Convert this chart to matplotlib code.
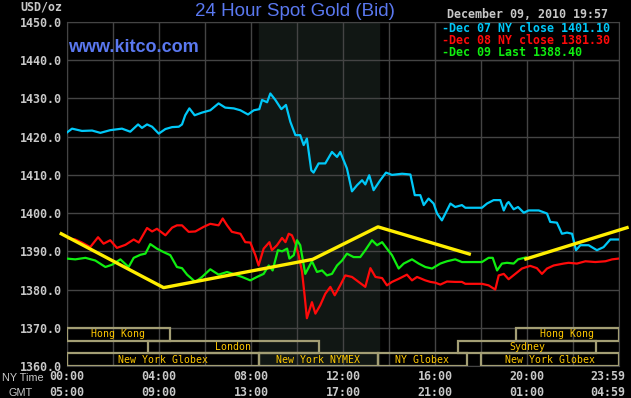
import matplotlib
matplotlib.use('Agg')
import matplotlib.pyplot as plt
from matplotlib.patches import Rectangle

# NY time in hours, price in USD/oz
dec07_h = [0.00, 0.22, 0.65, 1.09, 1.45, 1.88, 2.39, 2.75, 3.09, 3.26, 3.48, 3.70, 3.99, 4.28, 4.57,
           4.86, 5.00, 5.14, 5.32, 5.55, 5.87, 6.23, 6.59, 6.88, 7.25, 7.54, 7.87, 8.12, 8.36, 8.48,
           8.70, 8.84, 9.06, 9.32, 9.52, 9.71, 9.93, 10.14, 10.29, 10.43, 10.62, 10.72, 10.94, 11.23,
           11.52, 11.74, 11.88, 12.17, 12.39, 12.61, 12.83, 12.97, 13.14, 13.33, 13.62, 13.87, 14.13,
           14.57, 14.93, 15.12, 15.36, 15.51, 15.72, 15.94, 16.09, 16.30, 16.52, 16.67, 16.88, 17.17,
           17.32, 18.04, 18.26, 18.55, 18.84, 18.99, 19.13, 19.20, 19.42, 19.61, 19.86, 20.07, 20.51,
           20.87, 21.01, 21.30, 21.52, 21.74, 21.96, 22.13, 22.32, 22.68, 23.04, 23.33, 23.62, 23.98]
dec07_v = [1421.1, 1422.1, 1421.5, 1421.6, 1421.0, 1421.7, 1422.1, 1421.3, 1423.2, 1422.3, 1423.2, 1422.6,
           1420.8, 1422.0, 1422.5, 1422.6, 1423.2, 1425.6, 1427.4, 1425.6, 1426.3, 1426.9, 1428.7, 1427.6,
           1427.4, 1426.9, 1425.8, 1426.9, 1427.2, 1429.6, 1429.0, 1431.3, 1429.6, 1427.2, 1428.3, 1423.9,
           1420.4, 1420.4, 1417.8, 1419.5, 1411.2, 1410.6, 1413.0, 1413.0, 1416.0, 1414.7, 1416.0, 1411.7,
           1405.7, 1407.3, 1408.6, 1407.5, 1409.9, 1406.0, 1408.6, 1410.6, 1410.0, 1410.3, 1410.1, 1404.7,
           1404.7, 1402.1, 1403.8, 1402.5, 1399.9, 1398.1, 1400.7, 1402.5, 1401.6, 1402.1, 1401.4, 1401.4,
           1402.5, 1403.4, 1403.4, 1400.7, 1402.5, 1402.9, 1401.0, 1401.6, 1400.1, 1400.7, 1400.7, 1399.9,
           1397.7, 1397.5, 1394.6, 1394.9, 1394.6, 1390.3, 1391.6, 1391.6, 1390.3, 1391.1, 1393.1, 1393.1]

dec08_h = [0.00, 0.36, 0.65, 1.01, 1.35, 1.59, 1.88, 2.17, 2.54, 2.90, 3.12, 3.48, 3.70, 3.91, 4.28, 4.57,
           4.78, 5.00, 5.29, 5.58, 5.94, 6.23, 6.59, 6.77, 6.96, 7.17, 7.54, 7.75, 7.97, 8.19, 8.33, 8.55,
           8.80, 8.91, 9.13, 9.35, 9.50, 9.64, 9.78, 9.93, 10.07, 10.22, 10.33, 10.43, 10.65, 10.80, 11.01,
           11.23, 11.45, 11.64, 11.88, 12.10, 12.39, 12.68, 12.97, 13.19, 13.41, 13.70, 13.91, 14.13, 14.42,
           14.78, 15.00, 15.22, 15.58, 15.80, 16.01, 16.23, 16.52, 16.88, 17.17, 17.32, 18.04, 18.33, 18.62,
           18.77, 18.99, 19.20, 19.49, 19.78, 20.14, 20.43, 20.65, 20.87, 21.16, 21.59, 21.81, 22.17, 22.54,
           22.97, 23.41, 23.70, 23.98]
dec08_v = [1393.5, 1393.1, 1392.3, 1391.1, 1393.7, 1392.0, 1392.9, 1390.9, 1391.7, 1393.1, 1392.3, 1396.1,
           1395.2, 1395.9, 1394.2, 1396.2, 1396.8, 1396.8, 1395.1, 1395.2, 1396.4, 1397.2, 1396.8, 1398.6,
           1396.8, 1395.1, 1394.6, 1392.4, 1392.3, 1389.0, 1386.3, 1390.7, 1392.4, 1390.3, 1391.6, 1393.5,
           1392.4, 1394.6, 1394.2, 1392.0, 1389.0, 1384.6, 1378.5, 1372.5, 1376.7, 1373.7, 1375.9, 1378.9,
           1380.7, 1378.5, 1381.1, 1383.7, 1383.3, 1382.0, 1380.7, 1385.6, 1383.3, 1383.0, 1381.1, 1382.0,
           1382.8, 1383.9, 1382.4, 1383.3, 1382.4, 1382.0, 1381.8, 1381.3, 1382.1, 1382.0, 1382.0, 1381.5,
           1381.5, 1381.1, 1380.0, 1383.7, 1384.1, 1382.7, 1384.1, 1385.5, 1386.2, 1385.6, 1384.1, 1385.5,
           1386.3, 1386.8, 1387.0, 1386.8, 1387.4, 1387.2, 1387.4, 1387.9, 1388.1]

dec09_h = [0.00, 0.36, 0.80, 1.23, 1.67, 1.96, 2.32, 2.68, 2.90, 3.19, 3.41, 3.62, 3.91, 4.20, 4.49, 4.78,
           5.00, 5.22, 5.58, 5.87, 6.23, 6.59, 6.96, 7.32, 7.61, 7.97, 8.26, 8.55, 8.77, 8.94, 9.17, 9.35,
           9.57, 9.67, 9.86, 10.00, 10.14, 10.36, 10.65, 10.87, 11.09, 11.30, 11.52, 11.74, 11.96, 12.17,
           12.46, 12.75, 12.97, 13.26, 13.48, 13.70, 13.91, 14.13, 14.42, 14.64, 15.00, 15.29, 15.58,
           15.87, 16.23, 16.52, 16.88, 17.17, 18.04, 18.33, 18.51, 18.70, 18.91, 19.13, 19.42, 19.61, 19.95]
dec09_v = [1388.1, 1387.9, 1388.3, 1387.6, 1385.9, 1386.5, 1387.9, 1385.9, 1388.3, 1389.1, 1389.4, 1391.9,
           1390.7, 1389.8, 1389.0, 1385.9, 1385.6, 1383.9, 1382.0, 1383.3, 1385.3, 1383.9, 1384.6, 1383.9,
           1383.3, 1382.4, 1383.3, 1384.1, 1386.3, 1385.0, 1390.3, 1390.0, 1390.7, 1388.1, 1389.0, 1392.9,
           1391.6, 1384.1, 1387.4, 1384.6, 1385.0, 1383.7, 1384.1, 1386.3, 1387.6, 1389.4, 1388.5, 1388.5,
           1390.3, 1392.9, 1391.6, 1392.4, 1390.7, 1389.0, 1385.5, 1386.8, 1387.9, 1386.8, 1385.9, 1385.5,
           1386.8, 1387.4, 1387.9, 1387.2, 1387.2, 1388.3, 1388.3, 1385.0, 1386.8, 1387.0, 1386.8, 1387.9,
           1388.4]

# yellow trend lines
trend1_h = [-0.25, 4.2, 10.68, 13.52, 17.49]
trend1_v = [1394.6, 1380.5, 1387.9, 1396.4, 1389.3]
trend2_h = [19.95, 24.35]
trend2_v = [1388.0, 1396.2]

# market sessions
sess_label = ['Hong Kong', 'London', 'New York Globex', 'New York NYMEX', 'NY Globex',
              'New York Globex', 'Sydney', 'Hong Kong']
sess_start = [0, 3.5, 0, 8.33, 13.5, 18.0, 17.0, 19.5]
sess_end = [4.47, 10.97, 8.33, 13.5, 17.38, 24, 23.0, 24]
sess_row = [0, 1, 2, 2, 2, 2, 1, 0]

ny_ticks = [0, 4, 8, 12, 16, 20, 23.5]
ny_labels = ['00:00', '04:00', '08:00', '12:00', '16:00', '20:00', '23:59']
gmt_labels = ['05:00', '09:00', '13:00', '17:00', '21:00', '01:00', '04:59']

legend_labels = ['-Dec 07 NY close 1401.10', '-Dec 08 NY close 1381.30', '-Dec 09 Last 1388.40']

c07, c08, c09 = '#00c8f8', '#ff0a0a', '#10ee10'
grid_c = '#444444'
txt_c = '#c8c8c8'
mono = 'DejaVu Sans Mono'

W, H = 631, 398
fig = plt.figure(figsize=(W / 100, H / 100), dpi=100, facecolor='black')
ax = fig.add_axes([67 / W, 1 - 366 / H, 552 / W, 344 / H])
ax.set_facecolor('black')
ax.set_xlim(0, 24)
ax.set_ylim(1360, 1450)

#pit session shading
ax.axvspan(8.33, 13.55, color='#111714', zorder=0)

ax.set_xticks(range(0, 25, 2))
ax.set_yticks(range(1360, 1451, 10))
ax.set_yticklabels([f'{v:.1f}' for v in range(1360, 1451, 10)],
                   fontfamily=mono, fontweight='bold', fontsize=8.4, color=txt_c)
ax.tick_params(length=0, labelbottom=False, pad=4)
ax.set_axisbelow(True)
ax.grid(color=grid_c, lw=1)
for s in ax.spines.values():
    s.set_color(grid_c)

ax.plot(dec07_h, dec07_v, color=c07, lw=1.6, zorder=3)
ax.plot(dec08_h, dec08_v, color=c08, lw=1.6, zorder=3)
ax.plot(dec09_h, dec09_v, color=c09, lw=1.6, zorder=3)
ax.plot(trend1_h, trend1_v, color='#ffee00', lw=2.4, zorder=4, clip_on=False)
ax.plot(trend2_h, trend2_v, color='#ffee00', lw=2.4, zorder=4, clip_on=False)

#session boxes
row_h = 10 / 3
for lab, a, b, r in zip(sess_label, sess_start, sess_end, sess_row):
    y0 = 1370 - (r + 1) * row_h
    ax.add_patch(Rectangle((a, y0), b - a, row_h, fill=False, ec='#a39e74', lw=1.6, zorder=5))
    ax.text((a + b) / 2, y0 + row_h / 2, lab, ha='center', va='center', fontfamily=mono,
            fontsize=7.1, color='#ffc800', zorder=6)

#legend box
ax.add_patch(Rectangle((16.0, 1440), 8, 10, fc='black', ec=grid_c, lw=1, zorder=6))
for i, (lab, c) in enumerate(zip(legend_labels, [c07, c08, c09])):
    fig.text(442 / W, 1 - (28 + i * 12.5) / H, lab, ha='left', va='center', fontfamily=mono,
             fontweight='bold', fontsize=8.4, color=c)

#time axis labels
xt = ax.get_xaxis_transform()
for h, a, b in zip(ny_ticks, ny_labels, gmt_labels):
    ax.text(h, -11 / 344, a, transform=xt, ha='center', va='center', fontfamily=mono,
            fontweight='bold', fontsize=8.4, color=txt_c)
    ax.text(h, -27 / 344, b, transform=xt, ha='center', va='center', fontfamily=mono,
            fontweight='bold', fontsize=8.4, color=txt_c)
fig.text(2 / W, 1 - 378 / H, 'NY Time', ha='left', va='center', fontfamily='Liberation Sans',
         fontsize=7.8, color=txt_c)
fig.text(20.5 / W, 1 - 393 / H, 'GMT', ha='center', va='center', fontfamily='Liberation Sans',
         fontsize=7.8, color=txt_c)

fig.text(62 / W, 1 - 7 / H, 'USD/oz', ha='right', va='center', fontfamily=mono,
         fontweight='bold', fontsize=8.4, color=txt_c)
fig.text(295 / W, 1 - 11 / H, '24 Hour Spot Gold (Bid)', ha='center', va='center',
         fontfamily='Liberation Sans', fontsize=13.5, color='#5a78f0')
fig.text(68 / W, 1 - 47 / H, 'www.kitco.com', ha='left', va='center',
         fontfamily='Liberation Sans', fontweight='bold', fontsize=13, color='#5a78f0')
fig.text(527.5 / W, 1 - 14 / H, 'December 09, 2010 19:57', ha='center', va='center',
         fontfamily=mono, fontweight='bold', fontsize=8.4, color=txt_c)

fig.savefig('out.png', dpi=100, facecolor='black')
